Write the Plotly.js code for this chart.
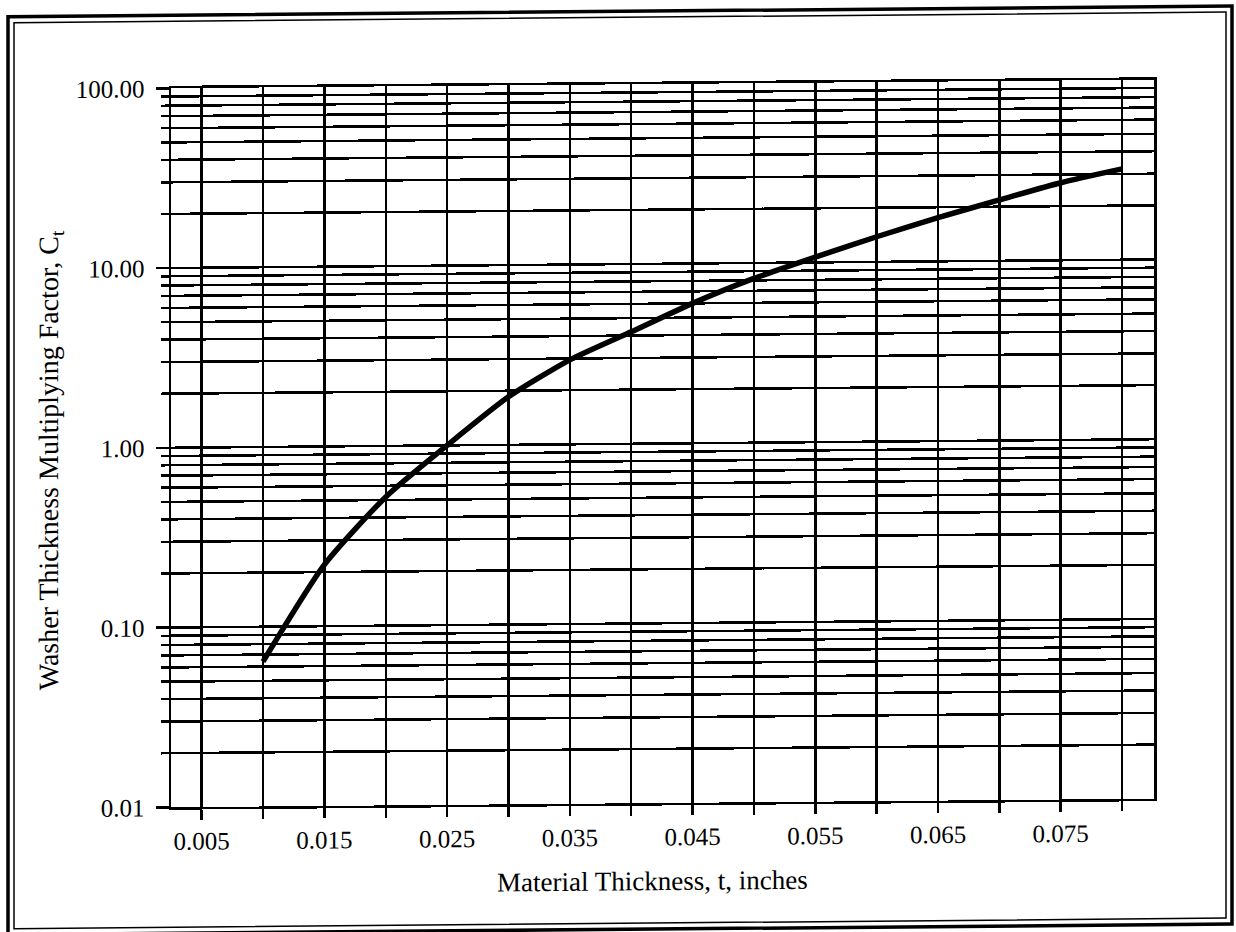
<!DOCTYPE html>
<html>
<head>
<meta charset="utf-8">
<script src="https://cdn.plot.ly/plotly-3.0.1.min.js"></script>
<style>
html,body{margin:0;padding:0;background:#fff;overflow:hidden;}
#chart{width:1236px;height:932px;transform:skewY(-0.5deg);transform-origin:662px 466px;}
</style>
</head>
<body>
<div id="chart"></div>
<script>
// Material thickness t (inches) and washer thickness multiplying factor Ct
const thickness = [0.010, 0.015, 0.020, 0.025, 0.030, 0.035, 0.040, 0.045, 0.050, 0.055, 0.060, 0.065, 0.070, 0.075, 0.080];
const factor    = [0.064, 0.22,  0.52,  1.0,   1.85,  2.95,  4.2,   6.0,   8.2,   10.7,  13.8,  17.5,  21.8,  27.0,  32.0];

const xTickVals = [0.005, 0.015, 0.025, 0.035, 0.045, 0.055, 0.065, 0.075];
const xTickText = ['0.005', '0.015', '0.025', '0.035', '0.045', '0.055', '0.065', '0.075'];
const xMinorVals = [0.010, 0.020, 0.030, 0.040, 0.050, 0.060, 0.070, 0.080];

const yTickVals = [0.01, 0.1, 1, 10, 100];
const yTickText = ['0.01', '0.10', '1.00', '10.00', '100.00'];
const yMinorVals = [0.02, 0.03, 0.04, 0.05, 0.06, 0.07, 0.08, 0.09,
                    0.2, 0.3, 0.4, 0.5, 0.6, 0.7, 0.8, 0.9,
                    2, 3, 4, 5, 6, 7, 8, 9,
                    20, 30, 40, 50, 60, 70, 80, 90];

const xTitle = 'Material Thickness, t, inches';
const yTitle = 'Washer Thickness Multiplying Factor, C<sub>t</sub>';

// plot area in pixels
const L = 171, R = 1154, T = 84, B = 803;
const px = x => (x - L) / (R - L);
const py = y => (B - y) / (B - T);

const FONT = 'Liberation Serif, Times New Roman, serif';

const trace = {
  x: thickness,
  y: factor,
  type: 'scatter',
  mode: 'lines',
  line: {color: '#000', width: 5.5, shape: 'spline', smoothing: 0.6},
  hoverinfo: 'x+y'
};

const layout = {
  width: 1236,
  height: 932,
  margin: {l: L, r: 1236 - R, t: T, b: 932 - B, pad: 0},
  paper_bgcolor: '#fff',
  plot_bgcolor: '#fff',
  showlegend: false,
  font: {family: FONT, color: '#000', size: 25},
  xaxis: {
    range: [0.0025, 0.0826],
    tickmode: 'array',
    tickvals: xTickVals,
    ticktext: xTickText,
    ticks: 'outside',
    ticklen: 10,
    tickwidth: 2.5,
    tickcolor: '#000',
    showgrid: true,
    gridcolor: '#000',
    gridwidth: 2.5,
    zeroline: false,
    showline: true,
    linecolor: '#000',
    linewidth: 2.5,
    mirror: true,
    tickfont: {family: FONT, size: 25, color: '#000'},
    ticklabelstandoff: 0,
    minor: {
      tickmode: 'array',
      tickvals: xMinorVals,
      ticks: 'outside',
      ticklen: 10,
      tickwidth: 2.5,
      tickcolor: '#000',
      showgrid: true,
      gridcolor: '#000',
      gridwidth: 2.5
    }
  },
  yaxis: {
    type: 'log',
    range: [-2, 2],
    tickmode: 'array',
    tickvals: yTickVals,
    ticktext: yTickText,
    ticks: 'outside',
    ticklen: 13,
    tickwidth: 2.5,
    tickcolor: '#000',
    showgrid: true,
    gridcolor: '#000',
    gridwidth: 2.5,
    zeroline: false,
    showline: true,
    linecolor: '#000',
    linewidth: 2.5,
    mirror: true,
    tickfont: {family: FONT, size: 25, color: '#000'},
    ticklabelstandoff: 6,
    minor: {
      tickmode: 'array',
      tickvals: yMinorVals,
      ticks: 'outside',
      ticklen: 8,
      tickwidth: 2.5,
      tickcolor: '#000',
      showgrid: true,
      gridcolor: '#000',
      gridwidth: 2.5
    }
  },
  annotations: [
    {text: xTitle, xref: 'paper', yref: 'paper', x: px(652), y: py(881),
     xanchor: 'center', yanchor: 'middle', showarrow: false,
     font: {family: FONT, size: 27, color: '#000'}},
    {text: yTitle, xref: 'paper', yref: 'paper', x: px(50), y: py(455),
     xanchor: 'center', yanchor: 'middle', showarrow: false, textangle: -90,
     font: {family: FONT, size: 28, color: '#000'}}
  ],
  shapes: [
    {type: 'rect', xref: 'paper', yref: 'paper', x0: px(8), x1: px(1232), y0: py(929), y1: py(11),
     line: {color: '#000', width: 3.5}, layer: 'above'},
    {type: 'rect', xref: 'paper', yref: 'paper', x0: px(14), x1: px(1226), y0: py(923), y1: py(17),
     line: {color: '#000', width: 1.5}, layer: 'above'}
  ]
};

Plotly.newPlot('chart', [trace], layout, {staticPlot: true, displayModeBar: false});
</script>
</body>
</html>
